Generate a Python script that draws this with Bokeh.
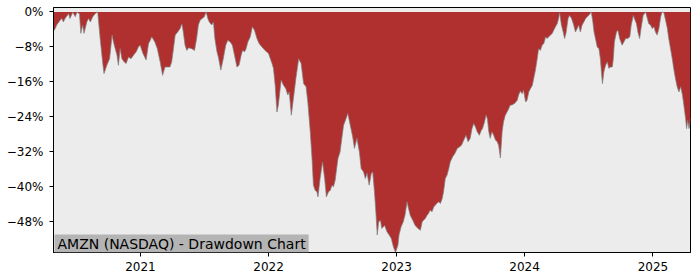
import pandas as pd
from bokeh.plotting import figure
from bokeh.models import FixedTicker, DatetimeTickFormatter, Range1d, Label
from bokeh.embed import file_html
from bokeh.resources import INLINE

title_text = "AMZN (NASDAQ) - Drawdown Chart"

dates = [
    "2020-04-28", "2020-05-03", "2020-05-07", "2020-05-17", "2020-05-22", "2020-05-26", "2020-05-31",
    "2020-06-10", "2020-06-14", "2020-06-22", "2020-06-29", "2020-07-04", "2020-07-11", "2020-07-15",
    "2020-07-20", "2020-07-24", "2020-08-01", "2020-08-06", "2020-08-11", "2020-08-18", "2020-08-25",
    "2020-09-01", "2020-09-08", "2020-09-16", "2020-09-19", "2020-09-27", "2020-10-05", "2020-10-12",
    "2020-10-16", "2020-10-21", "2020-10-26", "2020-10-30", "2020-11-04", "2020-11-09", "2020-11-15",
    "2020-11-21", "2020-11-28", "2020-12-05", "2020-12-12", "2020-12-20", "2020-12-26", "2020-12-31",
    "2021-01-08", "2021-01-17", "2021-01-24", "2021-01-29", "2021-02-02", "2021-02-11", "2021-02-18",
    "2021-02-26", "2021-03-05", "2021-03-12", "2021-03-20", "2021-03-26", "2021-03-31", "2021-04-05",
    "2021-04-10", "2021-04-17", "2021-04-24", "2021-04-29", "2021-05-03", "2021-05-08", "2021-05-13",
    "2021-05-18", "2021-05-27", "2021-06-04", "2021-06-10", "2021-06-15", "2021-06-20", "2021-06-26",
    "2021-07-02", "2021-07-07", "2021-07-12", "2021-07-16", "2021-07-23", "2021-07-28", "2021-08-01",
    "2021-08-07", "2021-08-11", "2021-08-18", "2021-08-25", "2021-09-01", "2021-09-07", "2021-09-14",
    "2021-09-20", "2021-09-26", "2021-10-03", "2021-10-09", "2021-10-15", "2021-10-19", "2021-10-25",
    "2021-10-29", "2021-11-03", "2021-11-10", "2021-11-16", "2021-11-22", "2021-11-29", "2021-12-05",
    "2021-12-13", "2021-12-22",
    "2022-01-01", "2022-01-11", "2022-01-15", "2022-01-20", "2022-01-25", "2022-01-29", "2022-02-06",
    "2022-02-13", "2022-02-19", "2022-02-25", "2022-03-01", "2022-03-07", "2022-03-13", "2022-03-20",
    "2022-03-28", "2022-04-04", "2022-04-11", "2022-04-18", "2022-04-23", "2022-04-30", "2022-05-05",
    "2022-05-09", "2022-05-14", "2022-05-19", "2022-05-22", "2022-05-28", "2022-06-04", "2022-06-10",
    "2022-06-15", "2022-06-21", "2022-06-26", "2022-07-01", "2022-07-05", "2022-07-10", "2022-07-18",
    "2022-07-24", "2022-07-29", "2022-08-03", "2022-08-10", "2022-08-15", "2022-08-22", "2022-08-29",
    "2022-09-03", "2022-09-10", "2022-09-17", "2022-09-22", "2022-09-29", "2022-10-04", "2022-10-09",
    "2022-10-15", "2022-10-21", "2022-10-25", "2022-10-30", "2022-11-03", "2022-11-07", "2022-11-11",
    "2022-11-16", "2022-11-20", "2022-11-28", "2022-12-05", "2022-12-11", "2022-12-17", "2022-12-23",
    "2022-12-29",
    "2023-01-05", "2023-01-08", "2023-01-14", "2023-01-20", "2023-01-25", "2023-01-31", "2023-02-04",
    "2023-02-09", "2023-02-16", "2023-02-23", "2023-03-03", "2023-03-10", "2023-03-15", "2023-03-19",
    "2023-03-24", "2023-03-29", "2023-04-02", "2023-04-07", "2023-04-12", "2023-04-17", "2023-04-21",
    "2023-04-26", "2023-05-01", "2023-05-06", "2023-05-11", "2023-05-15", "2023-05-20", "2023-05-25",
    "2023-05-30", "2023-06-03", "2023-06-10", "2023-06-16", "2023-06-23", "2023-06-29", "2023-07-05",
    "2023-07-14", "2023-07-18", "2023-07-24", "2023-07-30", "2023-08-04", "2023-08-09", "2023-08-14",
    "2023-08-19", "2023-08-25", "2023-08-31", "2023-09-03", "2023-09-09", "2023-09-13", "2023-09-17",
    "2023-09-21", "2023-09-25", "2023-09-30", "2023-10-05", "2023-10-10", "2023-10-15", "2023-10-19",
    "2023-10-24", "2023-10-29", "2023-11-02", "2023-11-07", "2023-11-12", "2023-11-17", "2023-11-21",
    "2023-11-26", "2023-12-04", "2023-12-11", "2023-12-15", "2023-12-20", "2023-12-25", "2023-12-29",
    "2024-01-04", "2024-01-08", "2024-01-13", "2024-01-18", "2024-01-23", "2024-01-27", "2024-02-01",
    "2024-02-06", "2024-02-10", "2024-02-15", "2024-02-20", "2024-02-25", "2024-03-01", "2024-03-05",
    "2024-03-10", "2024-03-15", "2024-03-20", "2024-03-24", "2024-03-29", "2024-04-03", "2024-04-07",
    "2024-04-10", "2024-04-15", "2024-04-20", "2024-04-24", "2024-04-28", "2024-05-04", "2024-05-08",
    "2024-05-14", "2024-05-20", "2024-05-25", "2024-05-30", "2024-06-03", "2024-06-08", "2024-06-13",
    "2024-06-18", "2024-06-23", "2024-06-28", "2024-07-04", "2024-07-09", "2024-07-13", "2024-07-17",
    "2024-07-21", "2024-07-26", "2024-07-31", "2024-08-04", "2024-08-07", "2024-08-10", "2024-08-14",
    "2024-08-19", "2024-08-24", "2024-08-28", "2024-09-02", "2024-09-07", "2024-09-10", "2024-09-13",
    "2024-09-19", "2024-09-23", "2024-09-28", "2024-10-05", "2024-10-10", "2024-10-15", "2024-10-21",
    "2024-10-27", "2024-10-31", "2024-11-06", "2024-11-09", "2024-11-15", "2024-11-19", "2024-11-24",
    "2024-11-28", "2024-12-04", "2024-12-11", "2024-12-16", "2024-12-20", "2024-12-25", "2024-12-30",
    "2025-01-04", "2025-01-08", "2025-01-13", "2025-01-18", "2025-01-23", "2025-01-27", "2025-02-01",
    "2025-02-06", "2025-02-11", "2025-02-15", "2025-02-20", "2025-02-25", "2025-03-01", "2025-03-06",
    "2025-03-11", "2025-03-16", "2025-03-21", "2025-03-26", "2025-03-30", "2025-04-04", "2025-04-07",
    "2025-04-10", "2025-04-14", "2025-04-18",
]

drawdown = [
    -4.4, -3.8, -3.0, -1.9, -1.5, -2.3, -1.5,
    -0.4, -1.5, -0.1, -1.1, -0.1, -0.4, -4.9,
    -3.0, -4.9, -2.3, -1.5, -2.3, -1.1, -0.4,
    0.0, -6.1, -12.2, -14.1, -12.2, -10.7, -5.3,
    -6.9, -8.4, -9.9, -12.2, -8.4, -10.7, -11.4,
    -11.8, -10.3, -10.7, -9.9, -9.1, -8.0, -7.6,
    -9.5, -11.0, -7.2, -6.5, -5.7, -6.9, -8.4,
    -11.4, -14.5, -12.6, -12.6, -12.6, -11.4, -8.4,
    -5.3, -4.6, -3.8, -2.7, -4.6, -7.6, -8.8,
    -8.2, -8.4, -8.8, -6.1, -3.0, -1.9, -1.5,
    -1.1, 0.0, -1.5, -2.3, -3.0, -2.3, -6.1,
    -9.1, -10.3, -13.3, -10.7, -7.6, -6.5, -6.9,
    -7.6, -9.9, -12.6, -12.2, -9.9, -8.8, -9.1,
    -8.4, -6.9, -5.7, -3.4, -4.2, -6.1, -7.2,
    -8.0, -8.8,
    -9.5, -11.8, -12.9, -16.8, -22.9, -21.3, -15.6,
    -16.8, -17.5, -19.0, -18.3, -23.6, -19.8, -15.2,
    -10.7, -11.8, -16.4, -17.1, -20.6, -27.4, -33.5,
    -39.6, -40.8, -41.1, -42.3, -38.1, -34.3, -38.1,
    -42.3, -41.1, -40.8, -39.6, -40.0, -38.5, -33.5,
    -32.0, -28.9, -25.9, -24.4, -23.2, -25.9, -28.6,
    -31.2, -28.9, -32.0, -35.8, -36.6, -38.1, -36.9,
    -39.6, -36.9, -36.6, -41.1, -45.7, -51.0, -48.0,
    -47.6, -49.5, -48.8, -50.3, -51.0, -51.8, -53.7,
    -55.0,
    -53.3, -51.0, -49.1, -48.0, -46.5, -43.4, -44.9,
    -46.5, -47.6, -48.8, -49.5, -49.9, -48.0, -47.6,
    -47.2, -46.5, -46.1, -45.3, -45.7, -44.6, -44.2,
    -43.8, -43.4, -43.8, -42.7, -41.1, -38.1, -37.3,
    -35.8, -34.3, -33.1, -32.4, -31.2, -30.9, -30.5,
    -28.9, -28.2, -29.7, -28.9, -26.7, -25.5, -26.3,
    -27.4, -28.2, -27.0, -26.7, -25.1, -23.6, -24.4,
    -27.4, -28.9, -27.4, -28.2, -29.3, -29.7, -30.5,
    -33.4, -27.4, -25.1, -23.6, -22.9, -22.1, -21.3,
    -21.3, -20.9, -20.2, -19.0, -18.1, -18.7, -17.9,
    -20.6, -20.2, -18.3, -17.5, -16.8, -15.2, -13.3,
    -10.7, -8.4, -8.8, -7.6, -7.2, -5.7, -6.1,
    -5.7, -5.3, -4.9, -4.2, -3.4, -2.7, -1.5,
    -0.2, -3.0, -4.6, -6.1, -4.9, -1.5, -0.8,
    -1.5, -3.0, -4.6, -3.8, -3.0, -4.6, -3.0,
    -2.3, -1.5, -1.1, -0.6, 0.0, -1.9, -4.6,
    -6.1, -8.0, -8.4, -10.7, -13.7, -16.4, -13.7,
    -12.2, -11.4, -12.9, -12.6, -12.6, -10.7, -6.9,
    -4.6, -4.2, -6.1, -7.6, -6.9, -6.1, -6.1,
    -5.7, -3.0, -0.8, -1.5, -2.7, -4.6, -6.1,
    -3.8, -0.8, 0.0, -1.5, -2.7, -3.0, -3.8,
    -3.4, -4.6, -5.3, -3.8, -1.1, 0.0, -0.2,
    -1.9, -3.8, -6.1, -8.4, -10.7, -12.9, -15.2,
    -17.1, -18.3, -17.1, -19.0, -21.3, -24.4, -26.7,
    -24.8, -26.7, -24.4,
]

y_ticks = [0, -8, -16, -24, -32, -40, -48]
y_tick_labels = ["0%", "\u22128%", "\u221216%", "\u221224%", "\u221232%", "\u221240%", "\u221248%"]
x_tick_years = ["2021-01-01", "2022-01-01", "2023-01-01", "2024-01-01", "2025-01-01"]

x = pd.to_datetime(dates)
zeros = [0.0] * len(drawdown)

p = figure(width=700, height=280, x_axis_type="datetime", output_backend="svg",
           toolbar_location=None, min_border_left=53, min_border_right=10,
           min_border_top=7, min_border_bottom=28)
p.x_range = Range1d(x[0], x[-1])
p.y_range = Range1d(-55.0, 1.0)

p.background_fill_color = "#ececec"
p.border_fill_color = "white"
p.outline_line_color = "black"
p.outline_line_width = 1
p.outline_line_alpha = 1
p.xgrid.visible = False
p.ygrid.visible = False

p.varea(x=x, y1=drawdown, y2=zeros, fill_color="#b03030")
p.line(x=x, y=drawdown, line_color="#808080", line_width=1, line_alpha=0.7)

tick_ms = [pd.Timestamp(d).value // 10**6 for d in x_tick_years]
p.xaxis.ticker = FixedTicker(ticks=tick_ms)
fmt = "%Y"
p.xaxis.formatter = DatetimeTickFormatter(years=fmt, months=fmt, days=fmt, hours=fmt,
                                          hourmin=fmt, minutes=fmt, minsec=fmt, seconds=fmt,
                                          milliseconds=fmt, microseconds=fmt)
p.yaxis.ticker = FixedTicker(ticks=y_ticks)
p.yaxis.major_label_overrides = {t: lab for t, lab in zip(y_ticks, y_tick_labels)}

for ax in (p.xaxis, p.yaxis):
    ax.axis_line_color = "black"
    ax.major_tick_line_color = "black"
    ax.minor_tick_line_color = None
    ax.major_tick_in = 0
    ax.major_tick_out = 4
    ax.major_label_text_font = "DejaVu Sans"
    ax.major_label_text_font_size = "12px"
    ax.major_label_text_color = "black"
p.xaxis.major_label_standoff = 5
p.yaxis.major_label_standoff = 6

lab = Label(x=x[0], y=-55.0, text=title_text, text_font="DejaVu Sans",
            text_font_size="14px", text_color="black", text_align="left",
            text_baseline="bottom", background_fill_color="#b4b4b4",
            padding=dict(left=3, right=3, top=1, bottom=1), x_offset=1)
p.add_layout(lab)

open("out.html", "w").write(file_html(p, INLINE))
